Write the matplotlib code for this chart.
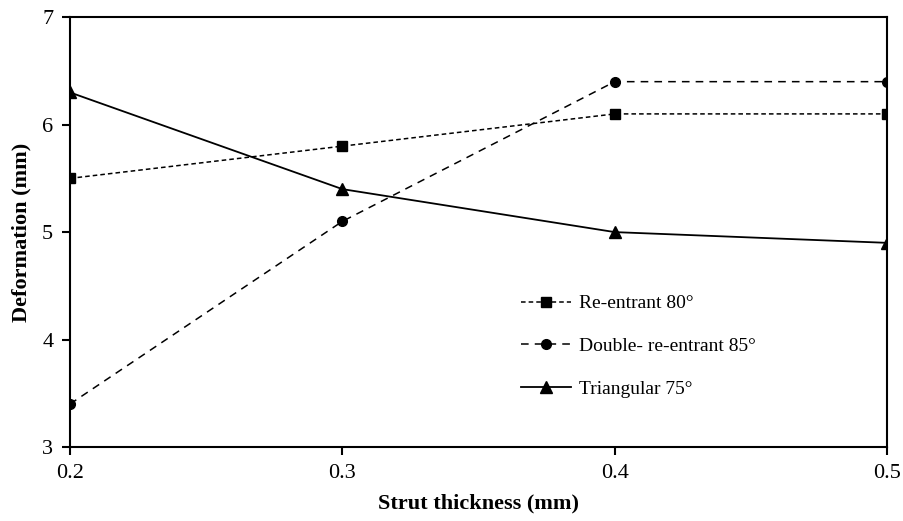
import matplotlib
matplotlib.use("Agg")
import matplotlib.pyplot as plt

plt.rcParams['font.family'] = ['Liberation Serif', 'DejaVu Serif']

thickness = [0.2, 0.3, 0.4, 0.5]
reentrant_80 = [5.5, 5.8, 6.1, 6.1]
double_reentrant_85 = [3.4, 5.1, 6.4, 6.4]
triangular_75 = [6.3, 5.4, 5.0, 4.9]

x_ticks = [0.2, 0.3, 0.4, 0.5]
y_ticks = [3, 4, 5, 6, 7]

fig = plt.figure(figsize=(9.04, 5.21), dpi=100)
ax = fig.add_axes([0.0774, 0.142, 0.904, 0.825])

ax.plot(thickness, reentrant_80, color='black', lw=1.1, linestyle=(0, (3, 2)),
        marker='s', markersize=6.5, label='Re-entrant 80°')
ax.plot(thickness, double_reentrant_85, color='black', lw=1.1, linestyle=(0, (5, 4)),
        marker='o', markersize=7, label='Double- re-entrant 85°')
ax.plot(thickness, triangular_75, color='black', lw=1.3, linestyle='-',
        marker='^', markersize=8, label='Triangular 75°')

ax.set_xlim(0.2, 0.5)
ax.set_ylim(3, 7)
ax.set_xticks(x_ticks)
ax.set_xticklabels([f"{v:.1f}" for v in x_ticks])
ax.set_yticks(y_ticks)
ax.tick_params(direction='out', length=6, width=1.5, labelsize=16, pad=6)
for s in ax.spines.values():
    s.set_linewidth(1.5)

ax.set_xlabel('Strut thickness (mm)', fontsize=16, fontweight='bold', labelpad=8)
ax.set_ylabel('Deformation (mm)', fontsize=16, fontweight='bold', labelpad=8)

ax.legend(loc='upper left', bbox_to_anchor=(0.53, 0.395), frameon=False,
          fontsize=14, handlelength=2.6, handletextpad=0.4, labelspacing=1.3)

fig.savefig('out.png', dpi=100)
